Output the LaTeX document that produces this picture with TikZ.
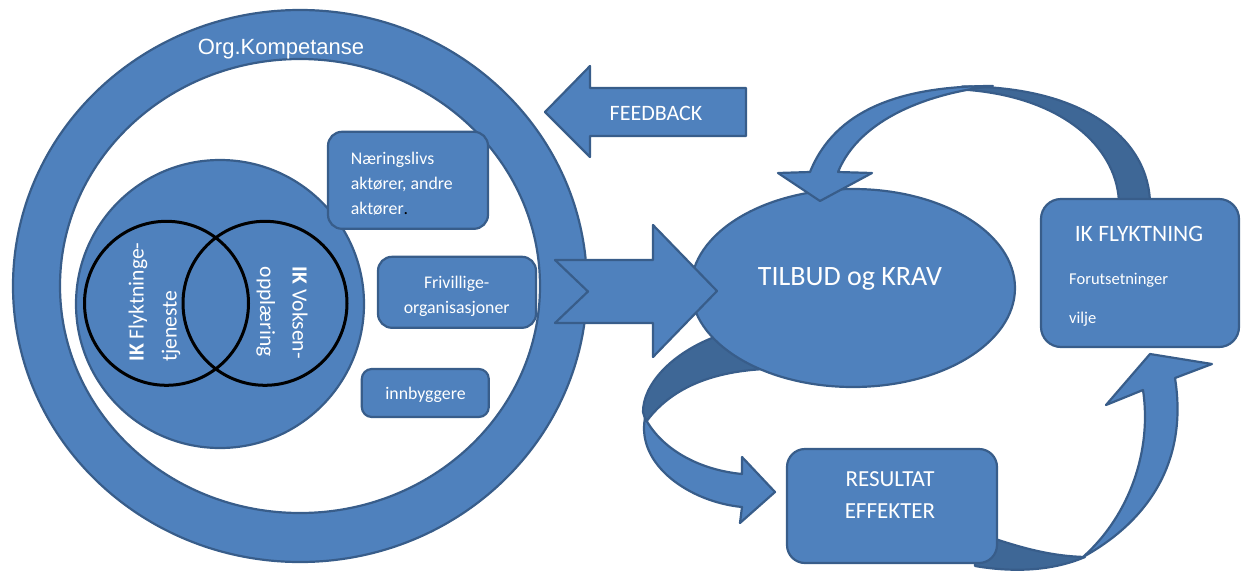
\documentclass[tikz,border=0pt]{standalone}
\usepackage{fontspec}
\setmainfont{Carlito}
\newfontfamily\arialfont{Liberation Sans}
\usetikzlibrary{shapes.geometric}
\definecolor{ofill}{HTML}{4F81BD}
\definecolor{oline}{HTML}{385D8A}
\definecolor{odark}{HTML}{3E6796}
\tikzset{
  shp/.style={fill=ofill, draw=oline, line width=2.2pt, line join=round},
  darkshp/.style={fill=odark, draw=oline, line width=2.2pt, line join=round},
  rbox/.style={shp, rounded corners=14pt, inner sep=0pt},
  wtext/.style={text=white, inner sep=0pt},
  venn/.style={circle, draw=black, line width=3pt, minimum size=164pt, inner sep=0pt},
}
\newcommand{\fs}[2]{\fontsize{#1}{#2}\selectfont}
\begin{document}
\begin{tikzpicture}[x=1pt,y=-1pt]
\useasboundingbox (0,0) rectangle (1243,571);
% ---- outer ring
\path[fill=ofill, even odd rule] (300,286) ellipse [x radius=287, y radius=276]
      (300,286) ellipse [x radius=240, y radius=227];
\draw[oline, line width=2.2pt] (300,286) ellipse [x radius=287, y radius=276];
\draw[oline, line width=2.2pt] (300,286) ellipse [x radius=240, y radius=227];
\node[wtext, anchor=base] (org) at (281,54) {\arialfont\fs{22}{26}Org.Kompetanse};
% ---- inner circle and venn
\node[circle, shp, minimum size=288pt, inner sep=0pt] (inner) at (220,304) {};
\node[venn] (vl) at (166.5,303.3) {};
\node[venn] (vr) at (265,303.3) {};
\node[wtext, rotate=90, anchor=base west] (vl1) at (143.5,361.7) {\fs{21.6}{25}\textbf{IK} Flyktninge-};
\node[wtext, rotate=90, anchor=base west] (vl2) at (176.5,361.7) {\fs{21.6}{25}tjeneste};
\node[wtext, rotate=-90, anchor=base west] (vr1) at (292.5,266.7) {\fs{21.6}{25}\textbf{IK} Voksen-};
\node[wtext, rotate=-90, anchor=base west] (vr2) at (260,266.7) {\fs{21.6}{25}opplæring};
% ---- boxes in ring
\node[rbox, minimum width=160pt, minimum height=97pt] (naer) at (408,180.3) {};
\node[wtext, anchor=base west] (naer1) at (350.7,164.3) {\fs{17.8}{25}Næringslivs};
\node[wtext, anchor=base west] (naer2) at (350.7,189) {\fs{17.8}{25}aktører, andre};
\node[wtext, anchor=base west] (naer3) at (350.7,214.3) {\fs{17.8}{25}aktører{\color{black}.}};
\node[rbox, minimum width=158pt, minimum height=71pt] (friv) at (457,292.3) {};
\node[wtext, anchor=base] (friv1) at (456.7,288.3) {\fs{17.8}{25}Frivillige-};
\node[wtext, anchor=base] (friv2) at (456.7,313.3) {\fs{17.8}{25}organisasjoner};
\node[rbox, rounded corners=10pt, minimum width=127pt, minimum height=48pt] (innb) at (425.3,393) {};
\node[wtext, anchor=base] (innbt) at (425.5,399.3) {\fs{17.8}{25}innbyggere};
% ---- feedback arrow
\draw[shp] (746,88) -- (590,88) -- (590,66) -- (545,112) -- (590,157) -- (590,136) -- (746,136) -- cycle;
\node[wtext, anchor=base] (fb) at (656,120.5) {\fs{22}{26}FEEDBACK};
% ---- bottom-left curved arrow (back face, under ellipse)
\draw[darkshp] (712,338) .. controls (670,355) and (643,385) .. (643,412) -- (646,422)
      .. controls (668,392) and (705,372) .. (765,369) -- (760,345) -- cycle;
% ---- ellipse
\node[ellipse, shp, minimum width=324pt, minimum height=198pt, inner sep=0pt] (tilbud) at (853,288) {};
\node[wtext, anchor=base] (tilbudt) at (850,285) {\fs{28}{32}TILBUD og KRAV};
% ---- bottom-left curved arrow (front face + head)
\draw[shp] (645,418) .. controls (636,465) and (690,502) .. (742,507) -- (740,523) -- (775,492)
      -- (742,457) -- (742,474) .. controls (700,470) and (662,450) .. (645,418) -- cycle;
% ---- big arrow into ellipse
\draw[shp] (555,260) -- (653,260) -- (653,225) -- (717,291) -- (653,357) -- (653,323) -- (555,323) -- (588,291.5) -- cycle;
% ---- top curved arrow
\draw[darkshp] (962,86.5) .. controls (1085,86) and (1150,140) .. (1150,205) -- (1119,205)
      .. controls (1119,150) and (1065,96) .. (962,89.5) -- cycle;
\draw[shp] (810,172) .. controls (835,110) and (900,86) .. (993,86)
      .. controls (930,93) and (860,118) .. (838,172) -- (872,173) -- (820,201) -- (778,173) -- cycle;
% ---- IK FLYKTNING box
\node[rbox, rounded corners=20pt, minimum width=198pt, minimum height=148pt] (ikf) at (1140,273) {};
\node[wtext, anchor=base] (ikf1) at (1139,241.5) {\fs{23.5}{26}IK FLYKTNING};
\node[wtext, anchor=base west] (ikf2) at (1069,284) {\fs{16.5}{20}Forutsetninger};
\node[wtext, anchor=base west] (ikf3) at (1069,323) {\fs{16.5}{20}vilje};
% ---- bottom-right curved arrow (back face, under box)
\draw[darkshp] (975,532) .. controls (1020,548) and (1050,556) .. (1085,557)
      .. controls (1050,572) and (1010,572) .. (975,566) -- cycle;
% ---- RESULTAT box
\node[rbox, rounded corners=18pt, minimum width=210pt, minimum height=114pt] (res) at (892,506) {};
\node[wtext, anchor=base] (res1) at (890,486.5) {\fs{23}{26}RESULTAT};
\node[wtext, anchor=base] (res2) at (890,518) {\fs{23}{26}EFFEKTER};
% ---- bottom-right curved arrow (front face + head)
\draw[shp] (1083,557) .. controls (1150,520) and (1188,460) .. (1175,378) -- (1212,364) -- (1150,354)
      -- (1106,405) -- (1143,390) .. controls (1152,450) and (1130,515) .. (1083,557) -- cycle;
\end{tikzpicture}
\end{document}
